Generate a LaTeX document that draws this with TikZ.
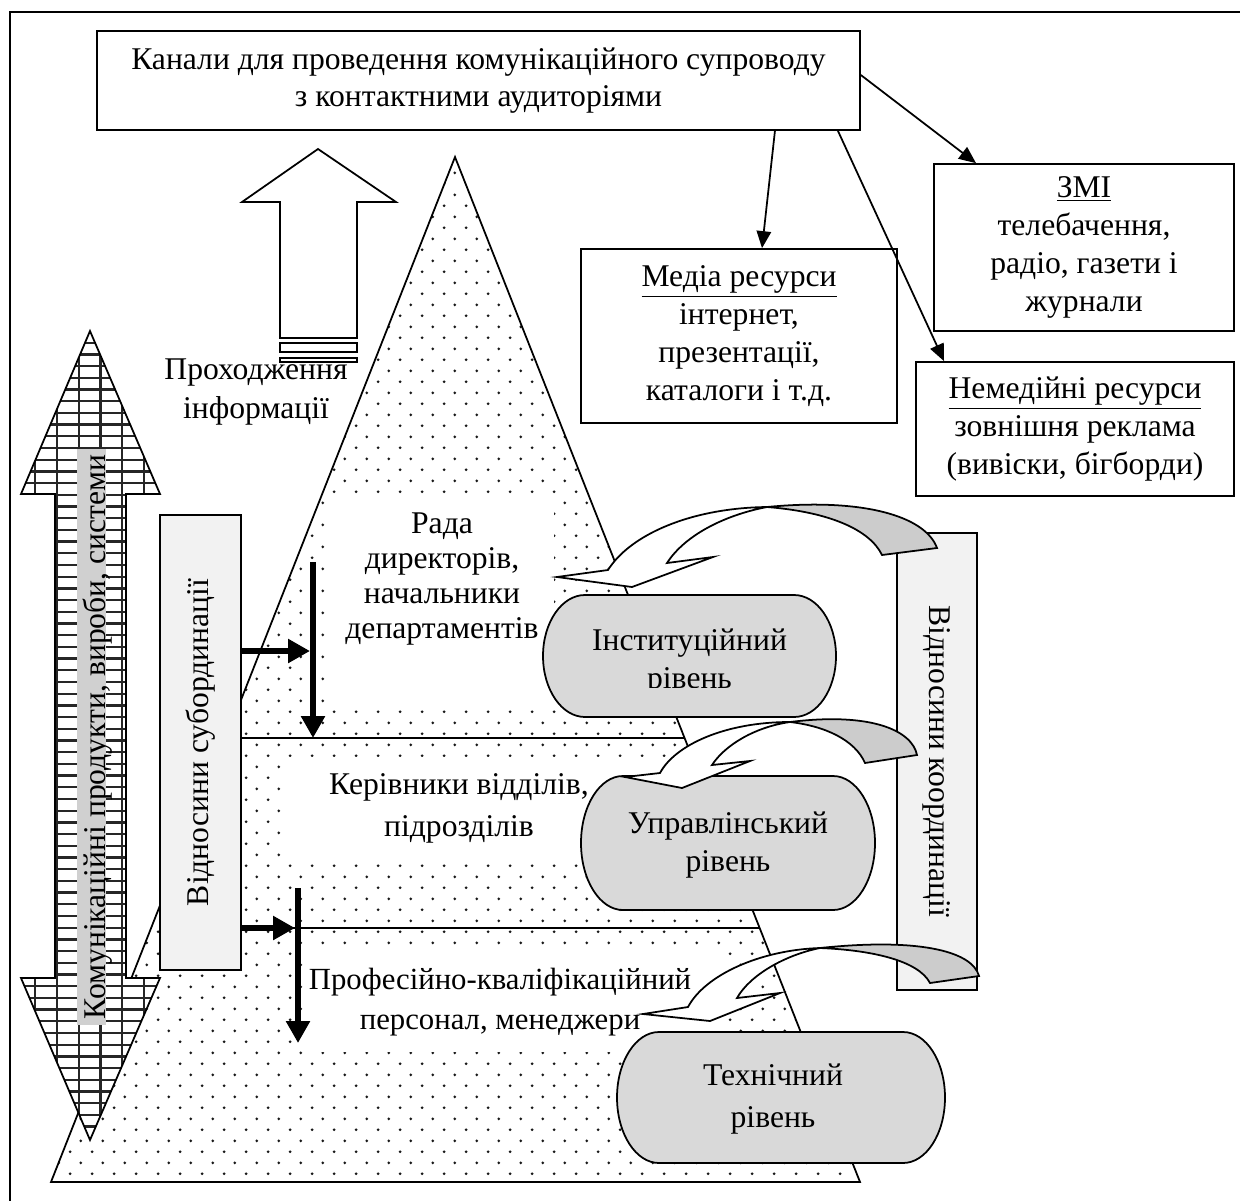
\documentclass[tikz,border=0pt]{standalone}
\usepackage{fontspec}
\setmainfont{Liberation Serif}
\usetikzlibrary{arrows.meta,patterns}
\pgfdeclarepatternformonly{pdots}{\pgfpointorigin}{\pgfqpoint{12.3pt}{12.47pt}}{\pgfqpoint{12.3pt}{12.47pt}}{%
  \pgfpathcircle{\pgfqpoint{3pt}{3pt}}{0.85pt}%
  \pgfpathcircle{\pgfqpoint{9.15pt}{9.235pt}}{0.85pt}%
  \pgfusepath{fill}%
}
\definecolor{lvl}{HTML}{D9D9D9}
\definecolor{bandc}{HTML}{F2F2F2}
\definecolor{tailgray}{HTML}{CCCCCC}
\definecolor{hl}{HTML}{D0D0D0}
\newcommand\stadium[5]{%
  \pgfmathsetmacro\stA{#1+#5}\pgfmathsetmacro\stB{#3-#5}%
  \pgfmathsetmacro\stY{(#2+#4)/2}\pgfmathsetmacro\stR{(#4-#2)/2}%
  \pgfmathsetmacro\stKa{#5*0.5523}\pgfmathsetmacro\stKb{\stR*0.5523}%
  \draw[lvlshape] (\stA,#2) -- (\stB,#2) .. controls ({\stB+\stKa},#2) and (#3,{\stY-\stKb}) .. (#3,\stY)
    .. controls (#3,{\stY+\stKb}) and ({\stB+\stKa},#4) .. (\stB,#4) -- (\stA,#4)
    .. controls ({\stA-\stKa},#4) and (#1,{\stY+\stKb}) .. (#1,\stY)
    .. controls (#1,{\stY-\stKb}) and ({\stA-\stKa},#2) .. (\stA,#2) -- cycle;
}
\begin{document}
\begin{tikzpicture}[x=0.02cm,y=-0.02cm,
  txt/.style={font=\fontsize{18}{21.5}\selectfont, align=center, inner sep=0pt},
  box/.style={txt, draw, line width=1pt, fill=white},
  arr/.style={-{Triangle[length=0.34cm,width=0.29cm]}, line width=1pt},
  tarr/.style={-{Triangle[length=0.44cm,width=0.46cm]}, line width=0.12cm},
  lvlshape/.style={draw, line width=1pt, fill=lvl},
  outl/.style={draw, line width=1pt},
  gridl/.style={line width=1.3pt, black!85},
]
\useasboundingbox (0,0) rectangle (1240,1200);
% frame
\draw[line width=1pt] (10,1215) -- (10,12) -- (1255,12);

% pyramid
\fill[pattern=pdots, pattern color=black!90] (455,157) -- (860,1182) -- (51,1182) -- cycle;
\begin{scope}
  \clip (455,157) -- (860,1182) -- (51,1182) -- cycle;
  \fill[white] (330,494) rectangle (554,706);
  \fill[white] (283,757) rectangle (720,860);
  \fill[white] (305,952) rectangle (725,1052);
\end{scope}
\draw[outl] (455,157) -- (860,1182) -- (51,1182) -- cycle;

% subordination box
\node[draw, line width=1pt, fill=bandc, minimum width=1.62cm, minimum height=9.1cm, inner sep=0pt] (sub) at (200.5,742.5) {};
\node[txt, rotate=90] (subt) at (sub.center) {Відносини субординації};

% level lines
\coordinate (l1e) at (685,738);
\coordinate (l2e) at (759,928);
\draw[line width=1pt] (l1e -| sub.east) -- (l1e);
\draw[line width=1pt] (l2e -| sub.east) -- (l2e);

% level texts
\node[txt, font=\fontsize{18}{20}\selectfont] (rada) at (442,579) {Рада\\директорів,\\начальники\\департаментів};
\node[txt, font=\fontsize{18}{24}\selectfont] (kerivn) at (459,808) {Керівники відділів,\\підрозділів};
\node[txt, font=\fontsize{17.5}{23}\selectfont] (prof) at (500,1002) {Професійно-кваліфікаційний\\персонал, менеджери};

% thick arrows
\coordinate (v1a) at (313,562);
\coordinate (v1b) at (313,738);
\coordinate (h1b) at (310,651);
\coordinate (v2a) at (298,888);
\coordinate (v2b) at (298,1043);
\coordinate (h2b) at (295,928);
\draw[tarr] (v1a) -- (v1b);
\draw[tarr] (h1b -| sub.east) -- (h1b);
\draw[tarr] (v2a) -- (v2b);
\draw[tarr] (h2b -| sub.east) -- (h2b);

% double hatched arrow
\begin{scope}
  \clip (90,331) -- (160,494) -- (126,494) -- (126,978) -- (160,978) -- (90,1140) -- (21,978) -- (55,978) -- (55,494) -- (21,494) -- cycle;
  \fill[white] (0,300) rectangle (200,1200);
  \foreach \gx in {35.3,57,78.7,100.4,122.1,143.8} \draw[gridl] (\gx,300) -- (\gx,1200);
  \foreach \k in {0,...,70} \draw[gridl] (0,{331+11.7*\k}) -- (200,{331+11.7*\k});
\end{scope}
\draw[outl] (90,331) -- (160,494) -- (126,494) -- (126,978) -- (160,978) -- (90,1140) -- (21,978) -- (55,978) -- (55,494) -- (21,494) -- cycle;
\node[fill=hl, rotate=90, minimum width=11.52cm, minimum height=0.58cm, inner sep=0pt] (bandn) at (91.5,737) {};
\node[txt, rotate=90, anchor=base] (bandt) at (105,737) {Комунікаційні продукти, вироби, системи};

% information arrow
\draw[outl, fill=white] (318,149) -- (396,202) -- (357,202) -- (357,338) -- (280,338) -- (280,202) -- (242,202) -- cycle;
\draw[outl, fill=white] (280,343) rectangle (357,352);
\draw[outl, fill=white] (280,358) rectangle (357,362);
\node[txt, font=\fontsize{18}{22}\selectfont] (pass) at (256,392) {Проходження\\інформації};

% coordination box
\node[draw, line width=1pt, fill=bandc, minimum width=1.6cm, minimum height=9.14cm, inner sep=0pt] (coord) at (937,761.5) {};
\node[txt, rotate=-90] (coordt) at (coord.center) {Відносини координації};

% level shapes
\stadium{543}{595}{836}{717}{42}
\stadium{581}{776}{875}{910}{42}
\stadium{617}{1032}{945}{1163}{42}
\begin{scope}
  \clip (543,595) rectangle (836,687);
  \node[txt] (inst) at (689.5,662) {Інституційний\\рівень};
\end{scope}
\node[txt] (uprav) at (728,845) {Управлінський\\рівень};
\node[txt, font=\fontsize{18}{24}\selectfont] (tech) at (773,1099) {Технічний\\рівень};

% curved arrows
\draw[line width=1pt, fill=tailgray] (767,507) .. controls (860,498) and (925,515) .. (937,548) -- (882,555) .. controls (870,530) and (830,512) .. (767,507) -- cycle;
\draw[line width=1pt, fill=white] (608,570) .. controls (630,535) and (690,508) .. (767,507) .. controls (725,515) and (685,535) .. (667,563) -- (713,557) -- (632,587) -- (557,577) -- cycle;

\draw[line width=1pt, fill=tailgray] (790,722) .. controls (870,712) and (912,730) .. (917,755) -- (865,763) .. controls (855,740) and (825,726) .. (790,722) -- cycle;
\draw[line width=1pt, fill=white] (660,773) .. controls (675,745) and (725,722) .. (790,722) .. controls (755,727) and (725,745) .. (712,765) -- (750,761) -- (682,788) -- (625,777) -- cycle;

\draw[line width=1pt, fill=tailgray] (820,948) .. controls (915,938) and (972,950) .. (979,976) -- (930,983) .. controls (918,960) and (870,950) .. (820,948) -- cycle;
\draw[line width=1pt, fill=white] (688,1007) .. controls (705,975) and (760,950) .. (820,948) .. controls (785,955) and (750,975) .. (737,998) -- (780,993) -- (710,1021) -- (643,1014) -- cycle;

% channel boxes
\node[box, minimum width=15.26cm, minimum height=1.98cm] (top) at (478.5,80.5) {Канали для проведення комунікаційного супроводу\\з контактними аудиторіями};
\node[box, minimum width=6cm, minimum height=3.34cm] (zmi) at (1084,247.5) {\underline{ЗМІ}\\телебачення,\\радіо, газети і\\журнали};
\node[box, minimum width=6.32cm, minimum height=3.48cm] (media) at (739,336) {\underline{Медіа ресурси}\\інтернет,\\презентації,\\каталоги і т.д.};
\node[box, minimum width=6.36cm, minimum height=2.68cm] (nemed) at (1075,429) {\underline{Немедійні ресурси}\\зовнішня реклама\\(вивіски, бігборди)};

\draw[arr] ([xshift=5.93cm]top.south) -- ([xshift=0.46cm]media.north);
\draw[arr] ([xshift=7.19cm]top.south) -- ([xshift=-2.62cm]nemed.north);
\draw[arr] ([yshift=0.11cm]top.east) -- ([xshift=-2.16cm]zmi.north);
\end{tikzpicture}
\end{document}
